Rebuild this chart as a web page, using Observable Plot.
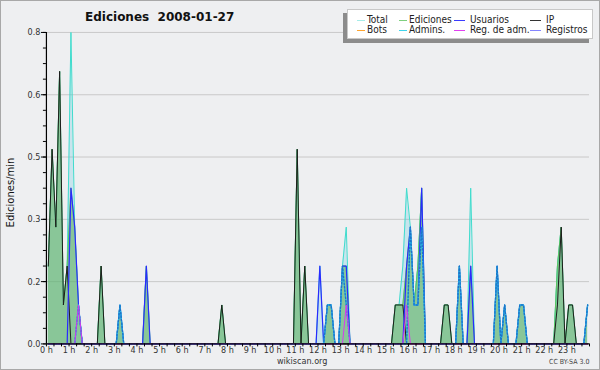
<!DOCTYPE html>
<html><head><meta charset="utf-8">
<script src="https://cdn.jsdelivr.net/npm/d3@7"></script>
<script src="https://cdn.jsdelivr.net/npm/@observablehq/plot@0.6"></script>
<style>
html,body{margin:0;padding:0;background:#fff;}
#wrap{position:relative;width:600px;height:370px;box-sizing:border-box;border:1px solid #a8a8a8;background:#eeeff1;font-family:"DejaVu Sans Condensed","DejaVu Sans",sans-serif;font-stretch:condensed;overflow:hidden;}
#chart{position:absolute;left:-1px;top:-1px;}
.abs{position:absolute;white-space:nowrap;}
#legend{position:absolute;left:346px;top:8px;width:244px;height:28px;background:#fff;border:1px solid #c8c8c8;box-shadow:-4px 4px 0 #8c8c8c;}
.sw{position:absolute;height:0;border-top:1px solid;}
.lt{position:absolute;font-size:10px;color:#222;line-height:10px;white-space:nowrap;}
</style></head>
<body>
<div id="wrap">
  <div id="chart"></div>
  <div class="abs" style="left:84px;top:9px;font-size:12px;font-weight:bold;color:#111;font-family:'DejaVu Sans',sans-serif;font-stretch:normal;">Ediciones&nbsp; 2008-01-27</div>
  <div class="abs" style="left:-27px;top:186px;width:72px;text-align:center;font-size:10px;color:#111;transform:rotate(-90deg);font-family:'DejaVu Sans',sans-serif;font-stretch:normal;">Ediciones/min</div>
  <div class="abs" style="left:276px;top:355px;font-size:9px;color:#333;">wikiscan.org</div>
  <div class="abs" style="left:548px;top:357px;font-size:7px;color:#444;">CC BY-SA 3.0</div>
  <div id="legend"></div>
</div>
<script>
// ---- data: 10-minute slots (0..143), values in edits/min; unlisted slots are 0 ----
const slotCount = 144;
const total = [[0,.2],[1,.5],[2,.3],[3,.7],[4,.1],[5,.2],[6,.8],[7,.3],[8,.1],[14,.2],[19,.1],[26,.2],[46,.1],[66,.5],[68,.2],[72,.2],[74,.1],[75,.1],[78,.2],[79,.3],[92,.1],[93,.1],[94,.2],[95,.4],[96,.3],[97,.1],[98,.2],[99,.4],[105,.1],[106,.1],[109,.2],[112,.4],[119,.2],[121,.1],[125,.1],[126,.1],[135,.2],[136,.3],[138,.1],[139,.1],[143,.1]];
const ediciones = [[0,.2],[1,.5],[2,.3],[3,.7],[4,.1],[5,.2],[6,.4],[7,.3],[8,.1],[14,.2],[19,.1],[26,.2],[46,.1],[66,.5],[68,.2],[74,.1],[75,.1],[78,.2],[79,.2],[92,.1],[93,.1],[94,.1],[95,.2],[96,.3],[97,.1],[98,.2],[99,.4],[105,.1],[106,.1],[109,.2],[112,.2],[119,.2],[121,.1],[125,.1],[126,.1],[135,.2],[136,.3],[138,.1],[139,.1],[143,.1]];
const usuarios = [[6,.4],[7,.3],[8,.1],[19,.1],[26,.2],[72,.2],[74,.1],[75,.1],[78,.2],[79,.2],[95,.2],[96,.3],[97,.1],[98,.1],[99,.4],[109,.2],[112,.2],[119,.2],[121,.1],[125,.1],[126,.1],[143,.1]];
const ip = [[0,.2],[1,.5],[2,.3],[3,.7],[4,.1],[5,.2],[14,.2],[46,.1],[66,.5],[68,.2],[92,.1],[93,.1],[94,.1],[105,.1],[106,.1],[135,.1],[136,.3],[138,.1],[139,.1]];
const bots = [];
const admins = [[8,.1],[19,.1],[74,.1],[75,.1],[78,.2],[79,.1],[96,.3],[97,.1],[98,.1],[99,.3],[109,.2],[119,.2],[121,.1],[125,.1],[126,.1],[143,.1]];
const regAdm = [[8,.1],[79,.1],[95,.1]];
const registros = [];

const legendNames = ["Total","Ediciones","Usuarios","IP","Bots","Admins.","Reg. de adm.","Registros"];
const legendColors = ["#a6ece8","#7fd07f","#3b3bff","#333333","#ffa530","#3fd3ea","#e040f0","#8585ff"];
const yTicks = [0, 0.16, 0.32, 0.48, 0.64, 0.8];
const yTickLabels = ["0.0","0.2","0.3","0.5","0.6","0.8"];
const hourLabels = d3.range(0, 24).map(h => h + " h");

// ---- build full series ----
function full(pairs) {
  const m = new Map(pairs);
  return d3.range(slotCount).map(i => ({x: (i * 10 + 5) / 60, y: m.get(i) ?? 0}));
}
const T = full(total), E = full(ediciones), U = full(usuarios), I = full(ip),
      B = full(bots), A = full(admins), R = full(regAdm), G = full(registros);

const minorX = d3.range(0, 24 * 3 + 1).map(k => k / 3);
const minorY = d3.range(0, 21).map(k => k * 0.04);
const hours = d3.range(0, 24);

const line = (data, stroke, extra = {}) => Plot.line(data, {x: "x", y: "y", stroke, strokeWidth: 1, ...extra});

const chart = Plot.plot({
  width: 600, height: 370,
  marginLeft: 46, marginRight: 10, marginTop: 32, marginBottom: 26,
  style: {background: "transparent", color: "#000", fontFamily: "'DejaVu Sans Condensed', 'DejaVu Sans', sans-serif"},
  x: {domain: [0, 24], label: null},
  y: {domain: [0, 0.8], label: null},
  marks: [
    Plot.gridY(yTicks.slice(1), {stroke: "#c9c9c9", strokeOpacity: 1}),
    Plot.areaY(T, {x: "x", y: "y", fill: "#30b8e0", fillOpacity: 0.2}),
    Plot.areaY(E, {x: "x", y: "y", fill: "#5fb35f", fillOpacity: 0.6}),
    line(T, "#3fdccd"),
    line(E, "#5cc45c"),
    line(B, "#ffa530"),
    line(G, "#8585ff"),
    line(I, "#1c1c1c"),
    line(U, "#2a2aff", {strokeWidth: 1.2}),
    line(A, "#22c4ec", {strokeWidth: 1.3}),
    line(A, "#1f72c8", {strokeWidth: 1.3, strokeDasharray: "1.5,2"}),
    line(R, "#d838f0"),
    Plot.axisY({ticks: yTicks, tickSize: 5, tickPadding: 1, fontSize: 9, fill: "#333", tickFormat: d => yTickLabels[yTicks.indexOf(d)]}),
    Plot.axisY({ticks: minorY, tickSize: 3, tickFormat: () => ""}),
    Plot.axisX({ticks: minorX, tickSize: 3, tickFormat: () => ""}),
    Plot.axisX({ticks: hours, tickSize: 0, tickPadding: 3, fontSize: 9, fill: "#333", tickFormat: h => hourLabels[h]}),
    Plot.ruleY([0], {stroke: "#000", strokeWidth: 1.2}),
    Plot.ruleX([0], {y1: 0, y2: 0.8, stroke: "#000", strokeWidth: 1.2})
  ]
});
document.getElementById("chart").appendChild(chart);

// ---- legend ----
const legend = document.getElementById("legend");
const colSw = [9, 51, 106, 182];
const colTx = [19, 61, 122, 198];
const swLen = [8, 8, 11, 11];
legendNames.forEach((name, k) => {
  const col = k % 4, row = Math.floor(k / 4);
  const top = 6 + row * 10;
  const sw = document.createElement("div");
  sw.className = "sw";
  sw.style.cssText = `left:${colSw[col]}px;top:${top + 4}px;width:${swLen[col]}px;border-top-color:${legendColors[k]};`;
  legend.appendChild(sw);
  const t = document.createElement("div");
  t.className = "lt";
  t.style.cssText = `left:${colTx[col]}px;top:${top - 1}px;`;
  t.textContent = name;
  legend.appendChild(t);
});
</script>
</body></html>
